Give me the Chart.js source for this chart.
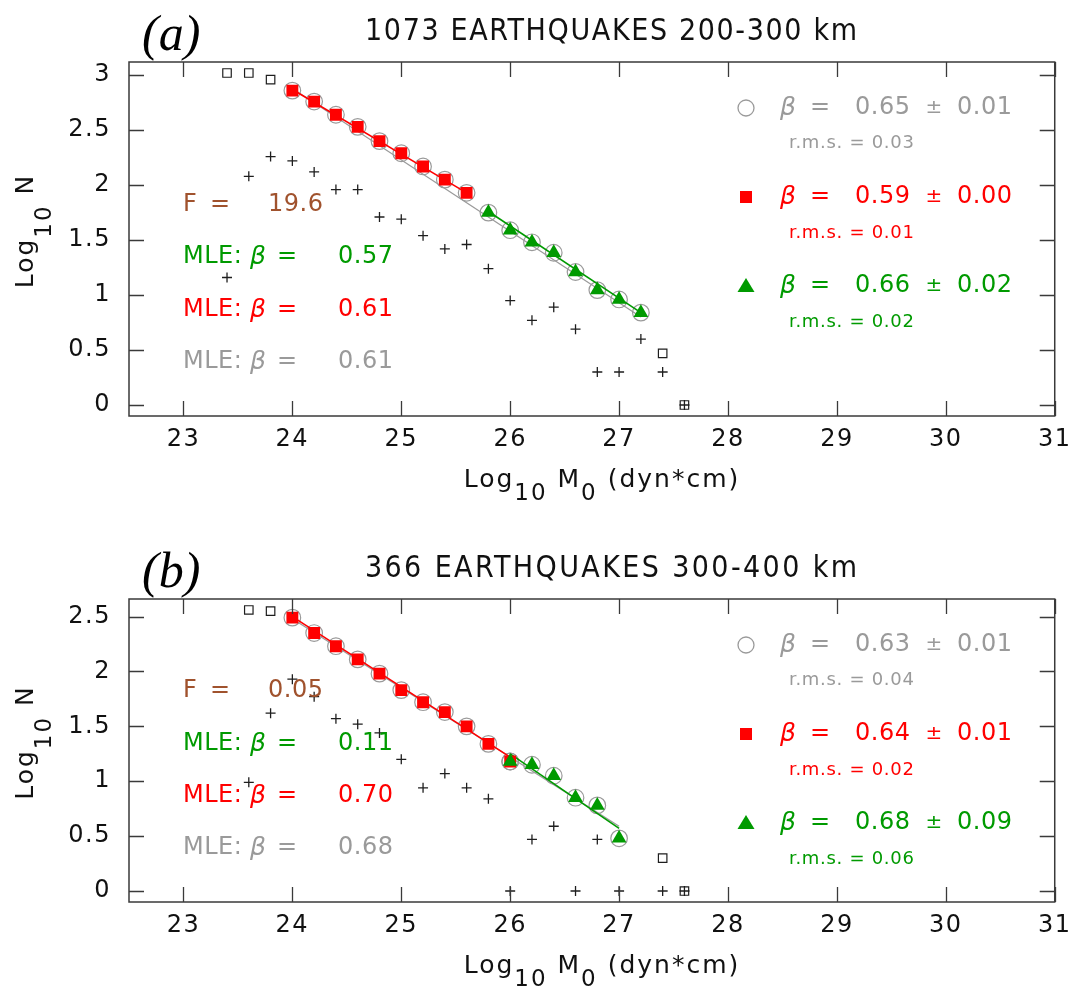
<!DOCTYPE html>
<html><head><meta charset="utf-8">
<script src="https://cdn.jsdelivr.net/npm/chart.js@4.4.1/dist/chart.umd.min.js"></script>
<style>
html,body{margin:0;padding:0;background:#fff;}
.pane{width:1079px;position:relative;}
canvas{display:block;}
</style></head><body>
<div class="pane" style="height:520px"><canvas id="ca" width="1079" height="520"></canvas></div>
<div class="pane" style="height:466px"><canvas id="cb" width="1079" height="466"></canvas></div>
<script>
// ---------- shared axis data ----------
const xTicks = [23, 24, 25, 26, 27, 28, 29, 30, 31];
const xTickLabels = ['23', '24', '25', '26', '27', '28', '29', '30', '31'];
const yTicksA = [0, 0.5, 1, 1.5, 2, 2.5, 3];
const yTickLabelsA = ['0', '0.5', '1', '1.5', '2', '2.5', '3'];
const yTicksB = [0, 0.5, 1, 1.5, 2, 2.5];
const yTickLabelsB = ['0', '0.5', '1', '1.5', '2', '2.5'];

// ---------- panel (a): 1073 earthquakes 200-300 km ----------
const aSquareX = [23.4, 23.6, 23.8, 27.4, 27.6];
const aSquareY = [3.02, 3.02, 2.96, 0.47, 0.0];
const aCrossX = [23.4, 23.6, 23.8, 24.0, 24.2, 24.4, 24.6, 24.8, 25.0, 25.2, 25.4, 25.6, 25.8, 26.0, 26.2, 26.4, 26.6, 26.8, 27.0, 27.2, 27.4, 27.6];
const aCrossY = [1.16, 2.08, 2.26, 2.22, 2.12, 1.96, 1.96, 1.71, 1.69, 1.54, 1.42, 1.46, 1.24, 0.95, 0.77, 0.89, 0.69, 0.30, 0.30, 0.60, 0.30, 0.0];
const aRedX = [24.0, 24.2, 24.4, 24.6, 24.8, 25.0, 25.2, 25.4, 25.6];
const aRedY = [2.86, 2.76, 2.64, 2.53, 2.40, 2.29, 2.17, 2.05, 1.93];
const aGreenX = [25.8, 26.0, 26.2, 26.4, 26.6, 26.8, 27.0, 27.2];
const aGreenY = [1.75, 1.59, 1.48, 1.385, 1.21, 1.045, 0.96, 0.84];
const aGrayFitX = [24.0, 27.2];
const aGrayFitY = [2.88, 0.80];
const aRedFitX = [24.0, 25.6];
const aRedFitY = [2.87, 1.93];
const aGreenFitX = [25.8, 27.2];
const aGreenFitY = [1.76, 0.84];
const aTitle = '1073 EARTHQUAKES 200-300 km';
const aF = '19.6';
const aMLE = ['0.57', '0.61', '0.61'];          // green, red, gray
const aBeta = ['0.65', '0.59', '0.66'];         // gray, red, green
const aBetaErr = ['0.01', '0.00', '0.02'];
const aRms = ['0.03', '0.01', '0.02'];

// ---------- panel (b): 366 earthquakes 300-400 km ----------
const bSquareX = [23.6, 23.8, 27.4, 27.6];
const bSquareY = [2.56, 2.55, 0.30, 0.0];
const bCrossX = [23.6, 23.8, 24.0, 24.2, 24.4, 24.6, 24.8, 25.0, 25.2, 25.4, 25.6, 25.8, 26.0, 26.2, 26.4, 26.6, 26.8, 27.0, 27.4, 27.6];
const bCrossY = [0.99, 1.62, 1.93, 1.77, 1.57, 1.52, 1.44, 1.20, 0.94, 1.07, 0.94, 0.84, 0.0, 0.47, 0.59, 0.0, 0.47, 0.0, 0.0, 0.0];
const bRedX = [24.0, 24.2, 24.4, 24.6, 24.8, 25.0, 25.2, 25.4, 25.6, 25.8, 26.0];
const bRedY = [2.49, 2.35, 2.23, 2.11, 1.98, 1.83, 1.72, 1.63, 1.50, 1.34, 1.18];
const bGreenX = [26.0, 26.2, 26.4, 26.6, 26.8, 27.0];
const bGreenY = [1.18, 1.15, 1.05, 0.85, 0.78, 0.48];
const bGrayFitX = [24.0, 27.0];
const bGrayFitY = [2.48, 0.59];
const bRedFitX = [24.0, 26.0];
const bRedFitY = [2.50, 1.22];
const bGreenFitX = [26.0, 27.0];
const bGreenFitY = [1.25, 0.57];
const bTitle = '366 EARTHQUAKES 300-400 km';
const bF = '0.05';
const bMLE = ['0.11', '0.70', '0.68'];
const bBeta = ['0.63', '0.64', '0.68'];
const bBetaErr = ['0.01', '0.01', '0.09'];
const bRms = ['0.04', '0.02', '0.06'];

// ---------- styling ----------
const GRAY = '#9a9a9a', RED = '#ff0000', GREEN = '#009a00', BROWN = '#a0522d', INK = '#1e1e1e';
const SANS = "'DejaVu Sans', sans-serif";
const COND = "'DejaVu Sans Condensed', 'DejaVu Sans', sans-serif";

function pts(xs, ys) { return xs.map((x, i) => ({ x: x, y: ys[i] })); }

function txt(ctx, s, x, y, font, color, align, spacing) {
  ctx.font = font; ctx.fillStyle = color; ctx.textAlign = align || 'left';
  ctx.textBaseline = 'middle'; ctx.letterSpacing = spacing || '0px';
  ctx.fillText(s, x, y);
}

function panelPlugin(p) {
  return {
    id: 'panelDeco',
    beforeDraw(chart) { chart.ctx.letterSpacing = '1.5px'; },
    beforeDatasetsDraw(chart) { chart.ctx.letterSpacing = '0px'; },
    afterDraw(chart) {
      const ctx = chart.ctx, ca = chart.chartArea, xs = chart.scales.x, ys = chart.scales.y;
      ctx.save();
      ctx.letterSpacing = '0px';
      // frame + inward ticks on all four sides
      ctx.strokeStyle = '#3a3a3a'; ctx.lineWidth = 1.5;
      ctx.strokeRect(ca.left, ca.top, ca.right - ca.left, ca.bottom - ca.top);
      ctx.beginPath();
      xs.ticks.forEach(t => {
        const px = Math.round(xs.getPixelForValue(t.value)) + 0.5;
        ctx.moveTo(px, ca.bottom); ctx.lineTo(px, ca.bottom - 15);
        ctx.moveTo(px, ca.top); ctx.lineTo(px, ca.top + 15);
      });
      ys.ticks.forEach(t => {
        const py = Math.round(ys.getPixelForValue(t.value)) + 0.5;
        ctx.moveTo(ca.left, py); ctx.lineTo(ca.left + 15, py);
        ctx.moveTo(ca.right, py); ctx.lineTo(ca.right - 15, py);
      });
      ctx.lineWidth = 1.3; ctx.stroke();

      // panel letter
      txt(ctx, p.letter, 142, ca.top - 25, "italic 50px 'Liberation Serif', serif", '#000', 'left');
      // title, spread to the reference width
      const TF = "30px " + COND;
      ctx.font = TF; ctx.letterSpacing = '0px';
      const w0 = ctx.measureText(p.title).width;
      const sp = Math.max(0, (492 - w0) / (p.title.length - 1));
      txt(ctx, p.title, 611 + sp / 2, ca.top - 30, TF, '#111', 'center', sp.toFixed(2) + 'px');

      // axis titles with subscripts
      const mainF = "25px " + SANS, subF = "23px " + SANS;
      // x title
      ctx.textBaseline = 'alphabetic'; ctx.letterSpacing = '2px'; ctx.fillStyle = '#111';
      const parts = [['Log', 0], ['10', 1], [' M', 0], ['0', 1], [' (dyn*cm)', 0]];
      let tw = 0;
      parts.forEach(q => { ctx.font = q[1] ? subF : mainF; tw += ctx.measureText(q[0]).width; });
      let cx = 602 - tw / 2; const by = ca.bottom + 71;
      parts.forEach(q => {
        ctx.font = q[1] ? subF : mainF; ctx.textAlign = 'left';
        ctx.fillText(q[0], cx, q[1] ? by + 13 : by);
        cx += ctx.measureText(q[0]).width;
      });
      // y title (rotated)
      ctx.save();
      ctx.translate(33, (ca.top + ca.bottom) / 2 - 8);
      ctx.rotate(-Math.PI / 2);
      const yparts = [['Log', 0], ['10', 1], [' N', 0]];
      tw = 0;
      yparts.forEach(q => { ctx.font = q[1] ? subF : mainF; tw += ctx.measureText(q[0]).width; });
      cx = -tw / 2;
      yparts.forEach(q => {
        ctx.font = q[1] ? subF : mainF; ctx.textAlign = 'left';
        ctx.fillText(q[0], cx, q[1] ? 18 : 0);
        cx += ctx.measureText(q[0]).width;
      });
      ctx.restore();

      // left annotations: F and MLE values
      const big = "24px " + SANS, beta = "italic 25px " + SANS;
      const ly = p.leftY.map(v => ca.top + v);
      txt(ctx, 'F', 183, ly[0], big, BROWN); txt(ctx, '=', 210, ly[0], big, BROWN);
      txt(ctx, p.F, 268, ly[0], big, BROWN, 'left', '0.5px');
      const mleCol = [GREEN, RED, GRAY];
      for (let i = 0; i < 3; i++) {
        txt(ctx, 'MLE:', 183, ly[i + 1], big, mleCol[i], 'left', '0.5px');
        txt(ctx, '\u03B2', 250, ly[i + 1], beta, mleCol[i]);
        txt(ctx, '=', 277, ly[i + 1], big, mleCol[i]);
        txt(ctx, p.MLE[i], 338, ly[i + 1], big, mleCol[i], 'left', '0.5px');
      }

      // right legend
      const ry = [46, 81, 135, 171, 224, 260].map(v => ca.top + v);
      const legCol = [GRAY, RED, GREEN];
      for (let i = 0; i < 3; i++) {
        const y = ry[i * 2], c = legCol[i], mx = 746;
        ctx.letterSpacing = '0px';
        if (i === 0) {
          ctx.beginPath(); ctx.arc(mx, y, 8, 0, Math.PI * 2);
          ctx.strokeStyle = c; ctx.lineWidth = 1.3; ctx.stroke();
        } else if (i === 1) {
          ctx.fillStyle = c; ctx.fillRect(mx - 6, y - 6, 12, 12);
        } else {
          ctx.fillStyle = c; ctx.beginPath();
          ctx.moveTo(mx, y - 8); ctx.lineTo(mx + 8.5, y + 6); ctx.lineTo(mx - 8.5, y + 6); ctx.closePath(); ctx.fill();
        }
        txt(ctx, '\u03B2', 780, y, beta, c);
        txt(ctx, '=', 810, y, big, c);
        txt(ctx, p.beta[i], 855, y, big, c, 'left', '0.5px');
        txt(ctx, '\u00B1', 934, y, "20px " + SANS, c, 'center');
        txt(ctx, p.err[i], 957, y, big, c, 'left', '0.5px');
        txt(ctx, 'r.m.s. = ' + p.rms[i], 789, ry[i * 2 + 1], "18px " + SANS, c, 'left', '0.7px');
      }
      ctx.restore();
    }
  };
}

function makePanel(id, d) {
  const H = document.getElementById(id).height;
  return new Chart(document.getElementById(id), {
    type: 'scatter',
    data: {
      datasets: [
        { data: pts(d.sqX, d.sqY), pointStyle: 'rect', pointRadius: 6, backgroundColor: 'rgba(0,0,0,0)', borderColor: INK, borderWidth: 1.2, order: 1 },
        { data: pts(d.crX, d.crY), pointStyle: 'cross', pointRadius: 5, borderColor: INK, borderWidth: 1.3, order: 1 },
        { data: pts(d.gnX, d.gnY), pointStyle: 'triangle', pointRadius: 8.5, backgroundColor: GREEN, borderColor: GREEN, borderWidth: 0, order: 2 },
        { data: pts(d.rdX, d.rdY), pointStyle: 'rect', pointRadius: 8.4, backgroundColor: RED, borderColor: RED, borderWidth: 0, order: 3 },
        { data: pts(d.gfX, d.gfY), showLine: true, pointRadius: 0, borderColor: GREEN, borderWidth: 1.6, order: 4 },
        { data: pts(d.rfX, d.rfY), showLine: true, pointRadius: 0, borderColor: RED, borderWidth: 1.6, order: 4 },
        { data: pts(d.yfX, d.yfY), showLine: true, pointRadius: 0, borderColor: GRAY, borderWidth: 1.2, order: 5 },
        { data: pts(d.rdX.concat(d.gnX), d.rdY.concat(d.gnY)), pointStyle: 'circle', pointRadius: 8.3, backgroundColor: 'rgba(0,0,0,0)', borderColor: GRAY, borderWidth: 1.2, order: 6 }
      ]
    },
    options: {
      responsive: false, animation: false, events: [],
      layout: { padding: { top: d.top, right: 16, left: 0, bottom: 0 } },
      plugins: { legend: { display: false }, tooltip: { enabled: false } },
      scales: {
        x: {
          type: 'linear', min: 22.5, max: 31,
          afterBuildTicks: s => { s.ticks = xTicks.map(v => ({ value: v })); },
          afterFit: s => { s.height = H - d.bottom; },
          grid: { display: false, drawTicks: false }, border: { display: false },
          ticks: { font: { family: SANS, size: 24 }, color: '#111', padding: 9, maxRotation: 0, autoSkip: false,
                   callback: (v, i) => xTickLabels[i] }
        },
        y: {
          type: 'linear', min: -0.1, max: d.ymax,
          afterBuildTicks: s => { s.ticks = d.yT.map(v => ({ value: v })); },
          afterFit: s => { s.width = 129; },
          grid: { display: false, drawTicks: false }, border: { display: false },
          ticks: { font: { family: SANS, size: 24 }, color: '#111', padding: 18, autoSkip: false,
                   callback: (v, i) => d.yL[i] }
        }
      }
    },
    plugins: [panelPlugin(d.deco)]
  });
}

makePanel('ca', {
  top: 62, bottom: 416, ymax: 3.12, yT: yTicksA, yL: yTickLabelsA,
  sqX: aSquareX, sqY: aSquareY, crX: aCrossX, crY: aCrossY,
  rdX: aRedX, rdY: aRedY, gnX: aGreenX, gnY: aGreenY,
  yfX: aGrayFitX, yfY: aGrayFitY, rfX: aRedFitX, rfY: aRedFitY, gfX: aGreenFitX, gfY: aGreenFitY,
  deco: { letter: '(a)', title: aTitle, F: aF, MLE: aMLE, beta: aBeta, err: aBetaErr, rms: aRms, leftY: [143, 195, 248, 300] }
});
makePanel('cb', {
  top: 79, bottom: 382, ymax: 2.66, yT: yTicksB, yL: yTickLabelsB,
  sqX: bSquareX, sqY: bSquareY, crX: bCrossX, crY: bCrossY,
  rdX: bRedX, rdY: bRedY, gnX: bGreenX, gnY: bGreenY,
  yfX: bGrayFitX, yfY: bGrayFitY, rfX: bRedFitX, rfY: bRedFitY, gfX: bGreenFitX, gfY: bGreenFitY,
  deco: { letter: '(b)', title: bTitle, F: bF, MLE: bMLE, beta: bBeta, err: bBetaErr, rms: bRms, leftY: [92, 145, 197, 249] }
});
</script>
</body></html>
